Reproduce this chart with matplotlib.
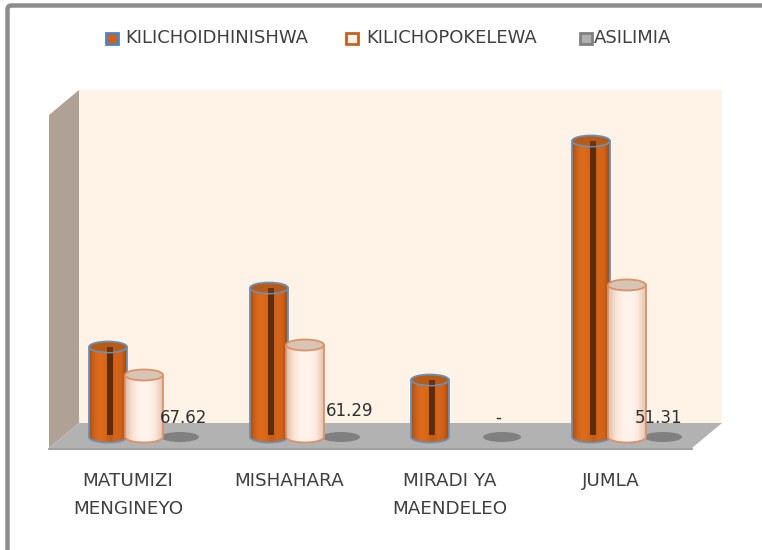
import numpy as np
import matplotlib
matplotlib.use("Agg")
import matplotlib.pyplot as plt
from matplotlib.colors import LinearSegmentedColormap
from matplotlib.patches import Ellipse, Polygon, PathPatch, Rectangle, FancyBboxPatch
from matplotlib.path import Path
from matplotlib.transforms import Affine2D

categories = ["MATUMIZI\nMENGINEYO", "MISHAHARA", "MIRADI YA\nMAENDELEO", "JUMLA"]
series_names = ["KILICHOIDHINISHWA", "KILICHOPOKELEWA", "ASILIMIA"]
kilichoidhinishwa = [90, 149, 57, 296]
kilichopokelewa = [62, 92, 0, 152]
asilimia_labels = ["67.62", "61.29", "-", "51.31"]

W, H = 762, 550
PX_PER_CAT = 161
X0_PX, Y0_PX = 144, 437
plt.rcParams['font.family'] = ['DejaVu Sans']

fig = plt.figure(figsize=(W / 100, H / 100), dpi=100, facecolor="white")
ax = fig.add_axes([0, 0, 1, 1])
ax.axis("off")
xlim = (-X0_PX / PX_PER_CAT, (W - X0_PX) / PX_PER_CAT)
ylim = (-(H - Y0_PX), Y0_PX)
ax.set_xlim(xlim)
ax.set_ylim(ylim)

# decoration transform: pixel coordinates, origin at top-left
px = Affine2D().scale(1 / W, -1 / H).translate(0, 1) + ax.transAxes

# outer frame
ax.add_patch(FancyBboxPatch((7.5, 5.5), 900, 700, boxstyle="round,pad=0,rounding_size=4",
                            fc="white", ec="#8c8c8c", lw=3.2, transform=px, clip_on=True, zorder=0))
# 3-D walls
ax.add_patch(Polygon([(79, 90), (722, 90), (722, 423), (79, 423)], fc="#FEF3E6", ec="none", transform=px, zorder=1))
ax.add_patch(Polygon([(49, 115), (79, 90), (79, 423), (49, 448)], fc="#B0A197", ec="none", transform=px, zorder=1))
ax.add_patch(Polygon([(79, 423), (722, 423), (692, 448), (49, 448)], fc="#B2B2B2", ec="none", transform=px, zorder=1))
ax.plot([49, 692], [448.5, 448.5], color="#8f8f8f", lw=1.2, transform=px, zorder=1)

W_C = 38 / PX_PER_CAT
E_H = 11
OFF = 36 / PX_PER_CAT

orange_cm = LinearSegmentedColormap.from_list("o", ["#A9500F", "#D2641A", "#DF6C1C", "#D86718", "#C65C14", "#D4651A", "#D0621A", "#9E4A0E"])
light_cm = LinearSegmentedColormap.from_list("l", ["#DDBDA8", "#FAE4D6", "#FFF3EA", "#FFF5EE", "#FBE8DC", "#E3C4B0"])


def cylinder(xc, value, cmap, edge, top_fc, z, stripe=False):
    xl, xr = xc - W_C / 2, xc + W_C / 2
    t = np.linspace(np.pi, 2 * np.pi, 40)
    bx = xc + W_C / 2 * np.cos(t)
    by = E_H / 2 * np.sin(t)
    verts = [(xl, value)] + list(zip(bx, by)) + [(xr, value), (xl, value)]
    codes = [Path.MOVETO] + [Path.LINETO] * (len(verts) - 1)
    clip = PathPatch(Path(verts, codes), fc="none", ec=edge, lw=1.3, zorder=z + 0.2)
    ax.add_patch(clip)
    im = ax.imshow(np.linspace(0, 1, 64).reshape(1, -1), cmap=cmap, aspect="auto",
                   extent=(xl, xr, -E_H, value), zorder=z, interpolation="bilinear")
    im.set_clip_path(clip)
    if stripe:
        ax.add_patch(Rectangle((xc - 1 / PX_PER_CAT, 2), 6 / PX_PER_CAT, value, fc="#5E2C0A", ec="none", zorder=z + 0.1))
    ax.add_patch(Ellipse((xc, value), W_C, E_H, fc=top_fc, ec=edge, lw=1.3, zorder=z + 0.3))
    if stripe:
        ax.add_patch(Rectangle((xc - 1 / PX_PER_CAT, value - E_H / 2 + 1), 6 / PX_PER_CAT, E_H / 2 - 1,
                               fc="#6A3410", ec="none", zorder=z + 0.4))


label_dx = [4, 9, -4, -4]
label_y = [19, 26, 19, 19]
for i in range(len(categories)):
    v1, v2 = kilichoidhinishwa[i], kilichopokelewa[i]
    cylinder(i - OFF, v1, orange_cm, "#6C90B4", "#B85A18", 3, stripe=True)
    if v2 > 0:
        cylinder(i, v2, light_cm, "#DC9268", "#D8C4B4", 4)
    ax.add_patch(Ellipse((i + OFF, 0), W_C, 10, fc="#808080", ec="none", zorder=2))
    ax.text(i + OFF + label_dx[i] / PX_PER_CAT, label_y[i], asilimia_labels[i], ha="center", va="center",
            fontsize=12, color="#303030", zorder=6)
    ax.text(i - 16 / PX_PER_CAT, -35, categories[i], ha="center", va="top", fontsize=13.2,
            color="#404040", linespacing=1.72, zorder=6)

# legend
leg_x = [112, 352, 586]
leg_tx = [125, 366, 594]
leg_fc = ["#D2601A", "#FFF3E8", "#B0B0B0"]
leg_ec = ["#4F81BD", "#C4611F", "#808080"]
for name, mx, tx, fc_, ec_ in zip(series_names, leg_x, leg_tx, leg_fc, leg_ec):
    ax.add_patch(Rectangle((mx - 6, 32.5), 12, 11, fc=fc_, ec=ec_, lw=2, transform=px, zorder=5))
    ax.text(tx, 38, name, ha="left", va="center", fontsize=13, color="#404040", transform=px, zorder=5)

ax.set_xlim(xlim)
ax.set_ylim(ylim)
fig.savefig("out.png", dpi=100, facecolor="white")
